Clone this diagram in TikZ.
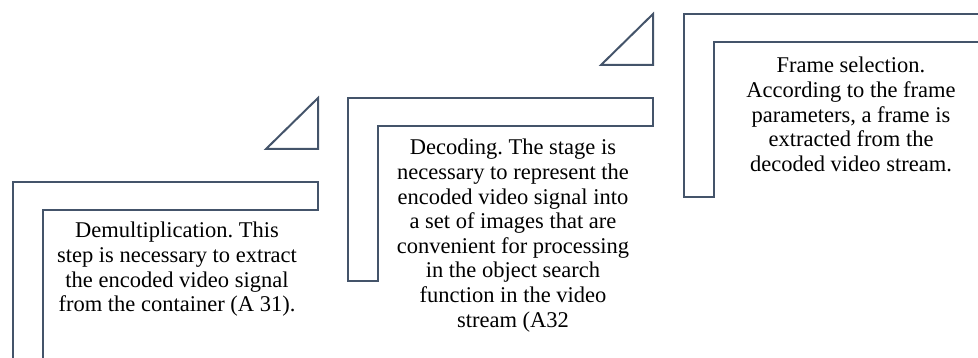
\documentclass[tikz,border=0pt]{standalone}
\usepackage{fontspec}
\setmainfont{Liberation Serif}
\frenchspacing
\definecolor{slate}{HTML}{44546A}
\tikzset{
  outline/.style={draw=slate, line width=2pt, line join=miter},
  steptext/.style={anchor=north, align=center, inner sep=0pt, text=black,
    font=\fontsize{22.5}{24.6}\selectfont},
  % L-shaped step block: 305 wide, 183 tall, band 28/30 thick
  lblock/.pic={
    \draw[outline] (0,0) -- (305,0) -- (305,28) -- (30,28) -- (30,183)
      -- (0,183) -- cycle;
  },
  % small right triangle pointing to the next step
  risetri/.pic={
    \draw[outline] (0,0) -- (0,51) -- (-52,51) -- cycle;
  }
}
\begin{document}
\begin{tikzpicture}[x=1pt, y=-1pt]
  \useasboundingbox (0,0) rectangle (978,358);
  \begin{scope}
    \clip (0,0) rectangle (978,358);
    \pic (blockA) at (13,182) {lblock};
    \pic (blockB) at (348,98) {lblock};
    \pic (blockC) at (684,14) {lblock};
    \pic (riseA) at (318,98) {risetri};
    \pic (riseB) at (653,14) {risetri};
  \end{scope}

  \node[steptext] (textA) at (177,222) {Demultiplication. This\\step is necessary to extract\\the encoded video signal\\from the container (A 31).};
  \node[steptext] (textB) at (513,139) {Decoding. The stage is\\necessary to represent the\\encoded video signal into\\a set of images that are\\convenient for processing\\in the object search\\function in the video\\stream (A32};
  \node[steptext] (textC) at (851,57) {Frame selection.\\According to the frame\\parameters, a frame is\\extracted from the\\decoded video stream.};
\end{tikzpicture}
\end{document}
